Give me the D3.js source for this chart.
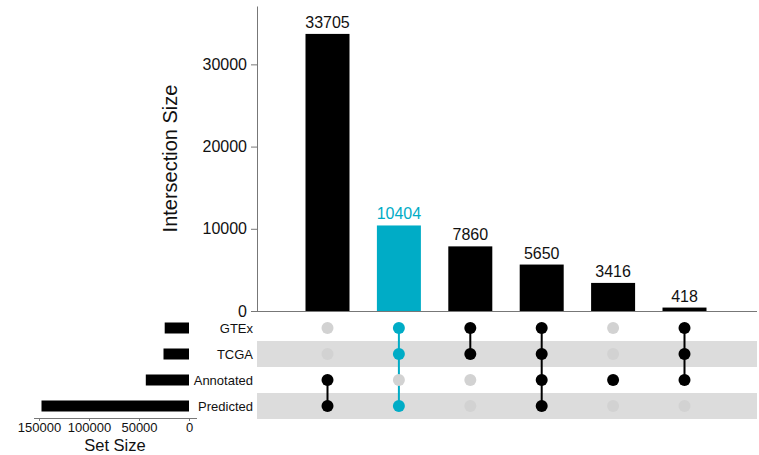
<!DOCTYPE html>
<html>
<head>
<meta charset="utf-8">
<script src="https://cdn.jsdelivr.net/npm/d3@7"></script>
<style>
  html, body { margin: 0; padding: 0; background: #fff; }
  svg { display: block; font-family: "Liberation Sans", Arial, sans-serif; }
</style>
</head>
<body>
<svg id="chart" width="759" height="455"></svg>
<script>
// Sets, top to bottom in the matrix
const sets = ["GTEx", "TCGA", "Annotated", "Predicted"];
const setSizes = [24300, 25500, 43200, 147500];

// Intersections, left to right
const intersectionSizes = [33705, 10404, 7860, 5650, 3416, 418];
const intersectionMembers = [
  ["Annotated", "Predicted"],
  ["GTEx", "TCGA", "Predicted"],
  ["GTEx", "TCGA"],
  ["GTEx", "TCGA", "Annotated", "Predicted"],
  ["Annotated"],
  ["GTEx", "TCGA", "Annotated"]
];
const highlighted = [false, true, false, false, false, false];

const yTicks = [0, 10000, 20000, 30000];
const setTicks = [0, 50000, 100000, 150000];

const BLACK = "#000000";
const TEAL = "#00acc6";
const INACTIVE = "#d2d2d2";
const BAND = "#dcdcdc";
const AXIS = "#777777";
const TEXT = "#111111";

const svg = d3.select("#chart");

// Layout
const barTop = 6, barBottom = 311;
const axisX = 257, plotRight = 757;
const rowTop = 315, rowH = 26;
const barW = 44;

const x = d3.scalePoint()
  .domain(d3.range(intersectionSizes.length))
  .range([327.5, 684.5]);

const y = d3.scaleLinear()
  .domain([0, 37100])
  .range([barBottom, barTop]);

const row = d3.scaleBand()
  .domain(sets)
  .range([rowTop, rowTop + rowH * sets.length]);

const sx = d3.scaleLinear()
  .domain([0, 150000])
  .range([189, 39]);

// Alternating row bands in the matrix
svg.append("g").selectAll("rect")
  .data(sets.filter((d, i) => i % 2 === 1))
  .join("rect")
  .attr("x", axisX)
  .attr("y", d => row(d))
  .attr("width", plotRight - axisX)
  .attr("height", row.bandwidth())
  .attr("fill", BAND);

// Intersection size axis
const yAxis = svg.append("g")
  .attr("transform", `translate(${axisX},0)`)
  .call(d3.axisLeft(y).tickValues(yTicks).tickSize(6).tickSizeOuter(0).tickPadding(4)
    .tickFormat(d3.format("d")));
yAxis.select(".domain").attr("stroke", AXIS);
yAxis.selectAll(".tick line").attr("stroke", AXIS);
yAxis.selectAll(".tick text").attr("font-size", 16).attr("fill", TEXT)
  .attr("font-family", "Liberation Sans, Arial, sans-serif");

// Baseline under intersection bars
svg.append("line")
  .attr("x1", axisX).attr("x2", plotRight)
  .attr("y1", y(0) + 0.5).attr("y2", y(0) + 0.5)
  .attr("stroke", AXIS).attr("stroke-width", 1);

svg.append("text")
  .attr("transform", `translate(177,${(barTop + barBottom) / 2}) rotate(-90)`)
  .attr("text-anchor", "middle")
  .attr("font-size", 20)
  .attr("fill", TEXT)
  .text("Intersection Size");

// Intersection bars
svg.append("g").selectAll("rect")
  .data(intersectionSizes)
  .join("rect")
  .attr("x", (d, i) => x(i) - barW / 2)
  .attr("y", d => y(d))
  .attr("width", barW)
  .attr("height", d => y(0) - y(d))
  .attr("fill", (d, i) => highlighted[i] ? TEAL : BLACK);

svg.append("g").selectAll("text")
  .data(intersectionSizes)
  .join("text")
  .attr("x", (d, i) => x(i))
  .attr("y", d => y(d) - 6)
  .attr("text-anchor", "middle")
  .attr("font-size", 16)
  .attr("fill", (d, i) => highlighted[i] ? TEAL : TEXT)
  .text(d => d);

// Matrix: connecting lines and dots
const rowY = s => row(s) + row.bandwidth() / 2;
const matrix = svg.append("g");
intersectionMembers.forEach((members, i) => {
  const color = highlighted[i] ? TEAL : BLACK;
  if (members.length > 1) {
    const ys = members.map(rowY);
    matrix.append("line")
      .attr("x1", x(i)).attr("x2", x(i))
      .attr("y1", d3.min(ys)).attr("y2", d3.max(ys))
      .attr("stroke", color).attr("stroke-width", 2);
  }
  matrix.selectAll(null)
    .data(sets)
    .join("circle")
    .attr("cx", x(i))
    .attr("cy", d => rowY(d))
    .attr("r", 6)
    .attr("fill", d => members.includes(d) ? color : INACTIVE);
});

// Set labels
svg.append("g").selectAll("text")
  .data(sets)
  .join("text")
  .attr("x", 253)
  .attr("y", d => rowY(d))
  .attr("dy", "0.35em")
  .attr("text-anchor", "end")
  .attr("font-size", 13)
  .attr("fill", TEXT)
  .text(d => d);

// Set size bars
svg.append("g").selectAll("rect")
  .data(sets)
  .join("rect")
  .attr("x", (d, i) => sx(setSizes[i]))
  .attr("y", d => rowY(d) - 5.5)
  .attr("width", (d, i) => sx(0) - sx(setSizes[i]))
  .attr("height", 11)
  .attr("fill", BLACK);

const sAxis = svg.append("g")
  .attr("transform", `translate(0,418)`)
  .call(d3.axisBottom(sx).tickValues(setTicks).tickSize(3).tickSizeOuter(0).tickPadding(2)
    .tickFormat(d3.format("d")));
sAxis.select(".domain").attr("stroke", AXIS).attr("d", "M34,0.5H197");
sAxis.selectAll(".tick line").attr("stroke", AXIS);
sAxis.selectAll(".tick text").attr("font-size", 13).attr("fill", TEXT)
  .attr("font-family", "Liberation Sans, Arial, sans-serif");

svg.append("text")
  .attr("x", 115)
  .attr("y", 451)
  .attr("text-anchor", "middle")
  .attr("font-size", 16.5)
  .attr("fill", TEXT)
  .text("Set Size");
</script>
</body>
</html>
